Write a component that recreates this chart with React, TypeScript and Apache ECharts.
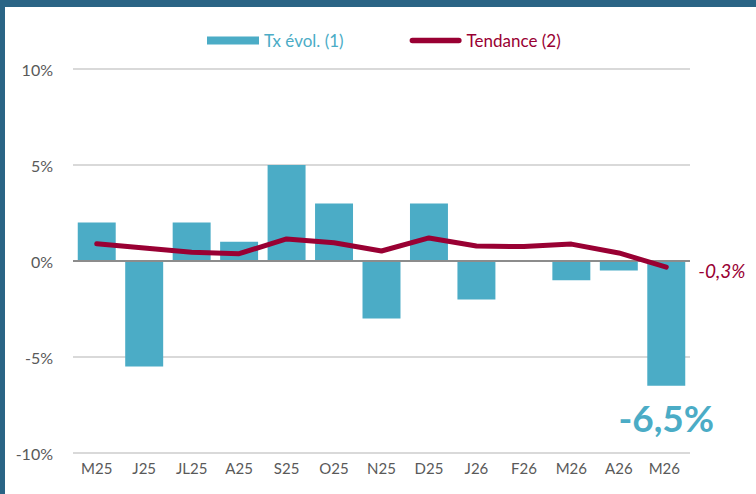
import React, { useEffect, useRef } from "react";
import * as echarts from "echarts";

const categories = ["M25", "J25", "JL25", "A25", "S25", "O25", "N25", "D25", "J26", "F26", "M26", "A26", "M26 "];
const txEvol = [2, -5.5, 2, 1, 5, 3, -3, 3, -2, 0, -1, -0.5, -6.5];
const tendance = [0.9, 0.68, 0.45, 0.38, 1.15, 0.95, 0.52, 1.2, 0.78, 0.75, 0.88, 0.42, -0.32];
const yTicks = { min: -10, max: 10, interval: 5 };
const lastBarLabel = "-6,5%";
const lastLineLabel = "-0,3%";

const BAR_COLOR = "#4bacc6";
const LINE_COLOR = "#990033";
const FONT = "Lato, 'Noto Sans', sans-serif";

export default function App() {
  const ref = useRef<HTMLDivElement>(null);
  useEffect(() => {
    if (!ref.current) return;
    const chart = echarts.init(ref.current, null, { renderer: "svg" });
    const n = txEvol.length;
    chart.setOption({
      animation: false,
      backgroundColor: "#ffffff",
      textStyle: { fontFamily: FONT },
      graphic: [
        { type: "rect", left: 0, top: 0, shape: { width: 756, height: 7 }, style: { fill: "#2a6485" }, z: 100 },
        { type: "rect", left: 0, top: 0, shape: { width: 5, height: 494 }, style: { fill: "#2a6485" }, z: 100 },
      ],
      legend: {
        left: 202,
        top: 27,
        itemWidth: 52,
        itemHeight: 8,
        itemGap: 66,
        textStyle: { fontSize: 17, fontFamily: FONT },
        data: [
          { name: "Tx évol. (1)", icon: "rect", textStyle: { color: BAR_COLOR } },
          {
            name: "Tendance (2)",
            icon: "path://M3,1 L53,1 A3,3 0 0 1 53,7 L3,7 A3,3 0 0 1 3,1 Z",
            textStyle: { color: LINE_COLOR },
          },
        ],
      },
      grid: { left: 73, right: 66, top: 69, bottom: 41, containLabel: false },
      xAxis: {
        type: "category",
        data: categories,
        axisLine: { show: false },
        axisTick: { show: false },
        axisLabel: { color: "#595959", fontSize: 15, margin: 7, fontFamily: FONT },
      },
      yAxis: {
        type: "value",
        min: yTicks.min,
        max: yTicks.max,
        interval: yTicks.interval,
        axisLine: { show: false },
        axisTick: { show: false },
        axisLabel: { color: "#595959", fontSize: 16, margin: 20, formatter: (v: number) => v + "%", fontFamily: FONT },
        splitLine: { lineStyle: { color: "#d9d9d9", width: 2 } },
      },
      series: [
        {
          name: "Tx évol. (1)",
          type: "bar",
          barWidth: "80%",
          itemStyle: { color: BAR_COLOR },
          data: txEvol.map((v, i) =>
            i === n - 1
              ? {
                  value: v,
                  label: {
                    show: true,
                    position: "bottom",
                    distance: 13,
                    formatter: lastBarLabel,
                    fontSize: 37,
                    fontWeight: "bold",
                    color: BAR_COLOR,
                    fontFamily: FONT,
                  },
                }
              : v
          ),
          markLine: {
            silent: true,
            symbol: "none",
            label: { show: false },
            lineStyle: { color: "#8c8c8c", width: 2, type: "solid" },
            data: [{ yAxis: 0 }],
          },
          z: 2,
        },
        {
          name: "Tendance (2)",
          type: "line",
          showSymbol: true,
          symbol: "circle",
          symbolSize: 0,
          lineStyle: { color: LINE_COLOR, width: 5, cap: "round", join: "round" },
          itemStyle: { color: LINE_COLOR },
          data: tendance.map((v, i) =>
            i === n - 1
              ? {
                  value: v,
                  label: {
                    show: true,
                    position: "right",
                    distance: 32,
                    offset: [0, 3],
                    formatter: lastLineLabel,
                    fontSize: 19,
                    fontStyle: "italic",
                    color: LINE_COLOR,
                    fontFamily: FONT,
                  },
                }
              : v
          ),
          z: 5,
        },
      ],
    });
    return () => chart.dispose();
  }, []);
  return (
    <div
      ref={ref}
      style={{ position: "absolute", left: 0, top: 0, width: 756, height: 494 }}
    />
  );
}
